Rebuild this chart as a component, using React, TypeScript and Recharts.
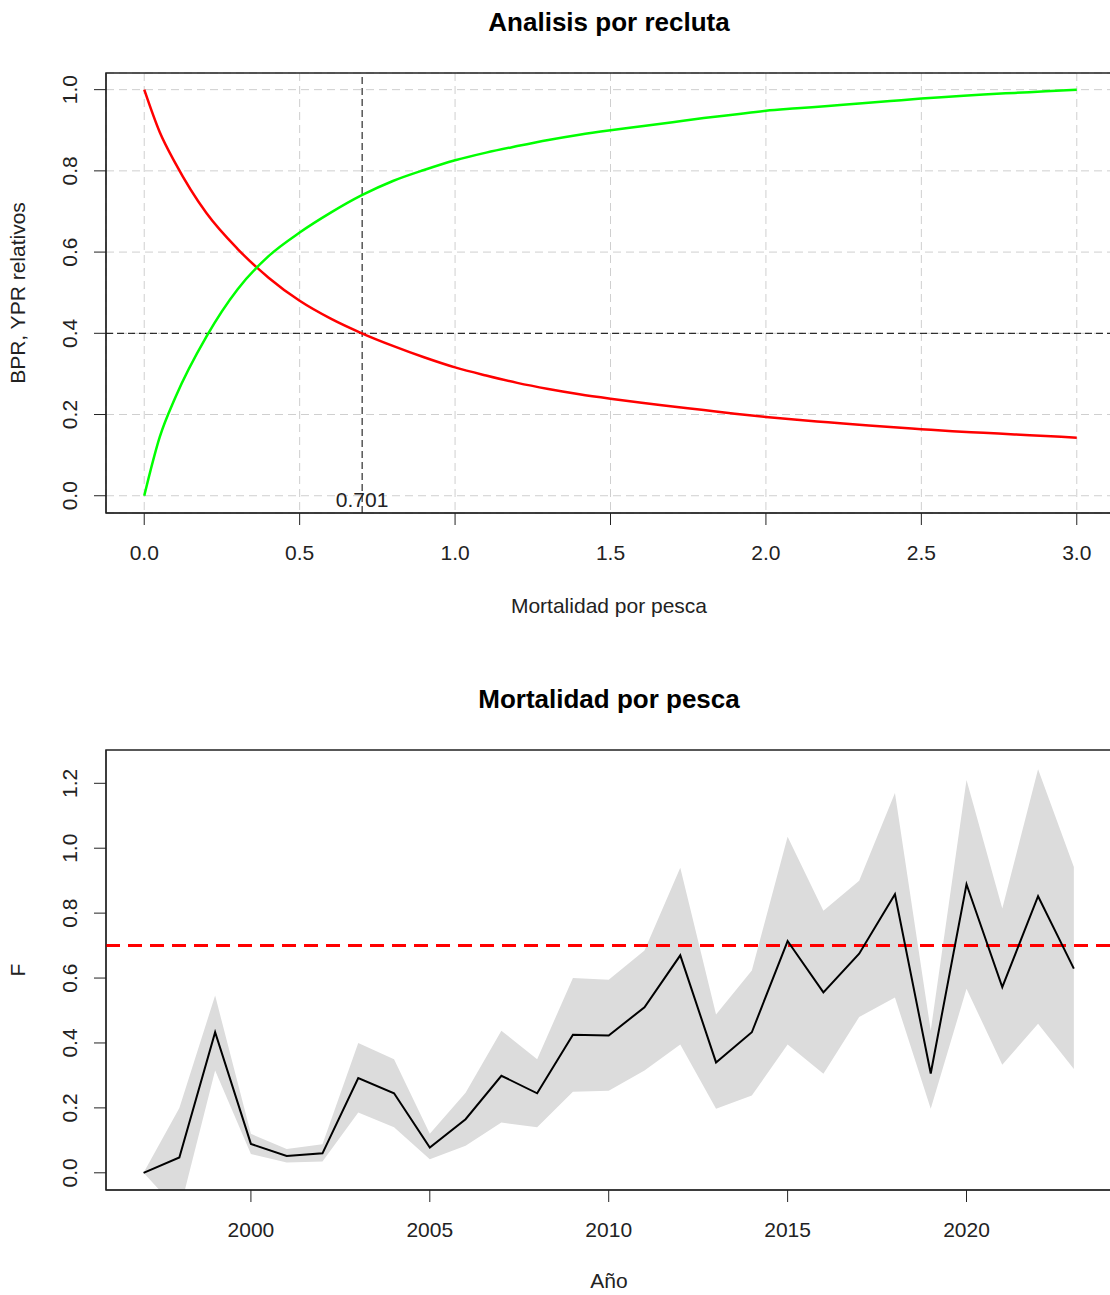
import React from "react";
import {
  ComposedChart,
  Line,
  Area,
  XAxis,
  YAxis,
  CartesianGrid,
  ReferenceLine,
  ReferenceArea,
} from "recharts";

// --- Analisis por recluta ---
const F_GRID = [
  0, 0.05, 0.1, 0.2, 0.3, 0.4, 0.5, 0.6, 0.7, 0.8, 0.9, 1.0, 1.1, 1.2, 1.3, 1.4,
  1.5, 1.6, 1.7, 1.8, 1.9, 2.0, 2.1, 2.2, 2.3, 2.4, 2.5, 2.6, 2.7, 2.8, 2.9, 3.0,
];
const BPR_REL = [
  1.0, 0.895, 0.819, 0.696, 0.608, 0.537, 0.48, 0.436, 0.4, 0.369, 0.341, 0.316,
  0.296, 0.278, 0.263, 0.25, 0.239, 0.229, 0.22, 0.211, 0.202, 0.194, 0.187,
  0.181, 0.175, 0.169, 0.164, 0.159, 0.155, 0.151, 0.147, 0.143,
];
const YPR_REL = [
  0.0, 0.145, 0.242, 0.392, 0.508, 0.59, 0.648, 0.697, 0.74, 0.775, 0.802,
  0.826, 0.845, 0.861, 0.876, 0.889, 0.9, 0.91, 0.92, 0.93, 0.939, 0.948, 0.954,
  0.96, 0.966, 0.972, 0.978, 0.983, 0.988, 0.992, 0.996, 1.0,
];
const F_REF = 0.701;
const BPR_TARGET = 0.4;
const TOP_X_TICKS = [0, 0.5, 1, 1.5, 2, 2.5, 3];
const TOP_Y_TICKS = [0, 0.2, 0.4, 0.6, 0.8, 1];
const TOP_X_DOMAIN = [-0.123, 3.123];
const TOP_Y_DOMAIN = [-0.0425, 1.041];

// --- Mortalidad por pesca ---
const YEARS = [
  1997, 1998, 1999, 2000, 2001, 2002, 2003, 2004, 2005, 2006, 2007, 2008, 2009,
  2010, 2011, 2012, 2013, 2014, 2015, 2016, 2017, 2018, 2019, 2020, 2021, 2022,
  2023,
];
const F_EST = [
  0.0, 0.047, 0.433, 0.089, 0.052, 0.06, 0.292, 0.245, 0.078, 0.165, 0.299,
  0.245, 0.425, 0.423, 0.51, 0.67, 0.34, 0.433, 0.714, 0.556, 0.675, 0.858,
  0.306, 0.889, 0.572, 0.852, 0.629,
];
const F_LOW = [
  0.0, -0.12, 0.315, 0.058, 0.032, 0.035, 0.186, 0.14, 0.042, 0.083, 0.155,
  0.14, 0.25, 0.253, 0.315, 0.395, 0.197, 0.238, 0.395, 0.305, 0.48, 0.54,
  0.197, 0.567, 0.333, 0.459, 0.32,
];
const F_HIGH = [
  0.0, 0.2, 0.546, 0.12, 0.073, 0.088, 0.4, 0.35, 0.12, 0.247, 0.438, 0.35, 0.6,
  0.595, 0.685, 0.94, 0.488, 0.623, 1.035, 0.807, 0.9, 1.17, 0.438, 1.21, 0.814,
  1.243, 0.942,
];
const F_LIMIT = 0.7;
const BOT_X_TICKS = [2000, 2005, 2010, 2015, 2020];
const BOT_Y_TICKS = [0, 0.2, 0.4, 0.6, 0.8, 1.0, 1.2];
const BOT_X_DOMAIN = [1995.95, 2024.15];
const BOT_Y_DOMAIN = [-0.053, 1.3026];

const FONT = '"Liberation Sans", Arial, sans-serif';
const INK = "#222";

const yprData = F_GRID.map((f, i) => ({ f, bpr: BPR_REL[i], ypr: YPR_REL[i] }));
const fData = YEARS.map((year, i) => ({
  year,
  f: F_EST[i],
  band: [F_LOW[i], F_HIGH[i]],
}));

function XTick({ x, y, payload, digits }: any) {
  return (
    <text x={x} y={y + 35} textAnchor="middle" fontSize={21} fill={INK} fontFamily={FONT}>
      {digits ? Number(payload.value).toFixed(digits) : payload.value}
    </text>
  );
}

function YTick({ x, y, payload }: any) {
  const bx = x - 17;
  return (
    <text
      x={bx}
      y={y}
      transform={`rotate(-90, ${bx}, ${y})`}
      textAnchor="middle"
      fontSize={21}
      fill={INK}
      fontFamily={FONT}
    >
      {Number(payload.value).toFixed(1)}
    </text>
  );
}

export default function App() {
  return (
    <div
      style={{
        position: "absolute",
        left: 0,
        top: 0,
        width: 1110,
        height: 1295,
        overflow: "hidden",
        background: "#fff",
      }}
    >
      <div style={{ position: "absolute", left: 0, top: 0 }}>
        <ComposedChart
          width={1120}
          height={650}
          data={yprData}
          margin={{ top: 73, right: 5, left: 0, bottom: 0 }}
        >
          <CartesianGrid stroke="#cfcfcf" strokeDasharray="8 5" />
          <XAxis
            type="number"
            dataKey="f"
            domain={TOP_X_DOMAIN}
            allowDataOverflow
            ticks={TOP_X_TICKS}
            interval={0}
            height={137}
            tickSize={12}
            tickMargin={0}
            stroke={INK}
            tick={<XTick digits={1} />}
          />
          <YAxis
            type="number"
            domain={TOP_Y_DOMAIN}
            allowDataOverflow
            ticks={TOP_Y_TICKS}
            interval={0}
            width={106}
            tickSize={12}
            tickMargin={0}
            stroke={INK}
            tick={<YTick />}
          />
          <ReferenceLine
            x={F_REF}
            stroke="#000"
            strokeDasharray="7 4"
            label={{
              value: F_REF.toFixed(3),
              position: "insideBottom",
              offset: 6,
              fill: INK,
              fontSize: 21,
              fontFamily: FONT,
            }}
          />
          <ReferenceLine y={BPR_TARGET} stroke="#000" strokeDasharray="7 4" />
          <Line
            type="monotone"
            dataKey="bpr"
            stroke="#ff0000"
            strokeWidth={2.5}
            dot={false}
            isAnimationActive={false}
          />
          <Line
            type="monotone"
            dataKey="ypr"
            stroke="#00ff00"
            strokeWidth={2.5}
            dot={false}
            isAnimationActive={false}
          />
          <ReferenceArea
            x1={TOP_X_DOMAIN[0]}
            x2={TOP_X_DOMAIN[1]}
            y1={TOP_Y_DOMAIN[0]}
            y2={TOP_Y_DOMAIN[1]}
            fill="none"
            stroke={INK}
            strokeWidth={1.5}
            ifOverflow="visible"
          />
        </ComposedChart>
      </div>

      <div style={{ position: "absolute", left: 0, top: 650 }}>
        <ComposedChart
          width={1120}
          height={645}
          data={fData}
          margin={{ top: 100, right: 5, left: 0, bottom: 0 }}
        >
          <XAxis
            type="number"
            dataKey="year"
            domain={BOT_X_DOMAIN}
            allowDataOverflow
            ticks={BOT_X_TICKS}
            interval={0}
            height={105}
            tickSize={12}
            tickMargin={0}
            stroke={INK}
            tick={<XTick />}
          />
          <YAxis
            type="number"
            domain={BOT_Y_DOMAIN}
            allowDataOverflow
            ticks={BOT_Y_TICKS}
            interval={0}
            width={106}
            tickSize={12}
            tickMargin={0}
            stroke={INK}
            tick={<YTick />}
          />
          <Area
            type="linear"
            dataKey="band"
            stroke="none"
            fill="#dcdcdc"
            fillOpacity={1}
            isAnimationActive={false}
          />
          <ReferenceLine y={F_LIMIT} stroke="#ff0000" strokeWidth={3} strokeDasharray="14 8" />
          <Line
            type="linear"
            dataKey="f"
            stroke="#000"
            strokeWidth={2}
            dot={false}
            isAnimationActive={false}
          />
          <ReferenceArea
            x1={BOT_X_DOMAIN[0]}
            x2={BOT_X_DOMAIN[1]}
            y1={BOT_Y_DOMAIN[0]}
            y2={BOT_Y_DOMAIN[1]}
            fill="none"
            stroke={INK}
            strokeWidth={1.5}
            ifOverflow="visible"
          />
        </ComposedChart>
      </div>

      <svg
        width={1110}
        height={1295}
        style={{ position: "absolute", left: 0, top: 0, pointerEvents: "none" }}
        fontFamily={FONT}
      >
        <text x={609} y={31} textAnchor="middle" fontSize={26} fontWeight="bold" fill="#000">
          Analisis por recluta
        </text>
        <text x={609} y={613} textAnchor="middle" fontSize={21} fill={INK}>
          Mortalidad por pesca
        </text>
        <text
          x={25}
          y={293}
          transform="rotate(-90, 25, 293)"
          textAnchor="middle"
          fontSize={21}
          fill={INK}
        >
          BPR, YPR relativos
        </text>
        <text x={609} y={708} textAnchor="middle" fontSize={26} fontWeight="bold" fill="#000">
          Mortalidad por pesca
        </text>
        <text x={609} y={1288} textAnchor="middle" fontSize={21} fill={INK}>
          Año
        </text>
        <text
          x={25}
          y={970}
          transform="rotate(-90, 25, 970)"
          textAnchor="middle"
          fontSize={21}
          fill={INK}
        >
          F
        </text>
      </svg>
    </div>
  );
}
